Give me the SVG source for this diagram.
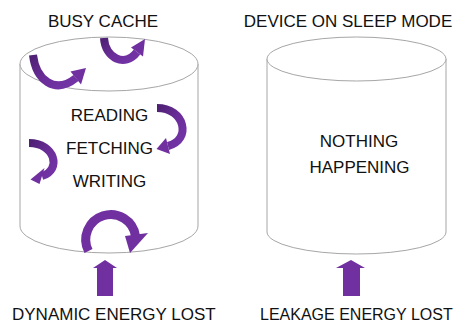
<svg xmlns="http://www.w3.org/2000/svg" width="458" height="325" viewBox="0 0 458 325">
<defs>
<style>
.cyl{fill:#fff;stroke:#a6a6a6;stroke-width:1}
.t{font-family:"Liberation Sans",Arial,sans-serif;font-size:17px;fill:#111}
.band{fill:none;stroke:url(#pg);stroke-width:8}
.head{fill:#7030a0}
.up{fill:#7030a0}
</style>
<linearGradient id="pg" x1="0" y1="0" x2="1" y2="1">
<stop offset="0" stop-color="#4e2073"/>
<stop offset="0.5" stop-color="#6a2d98"/>
<stop offset="1" stop-color="#7434a8"/>
</linearGradient>
</defs>
<rect width="458" height="325" fill="#fff"/>
<g id="busy-cache">
<path class="cyl" d="M20,64 L20,226 A89,27 0 0 0 198,226 L198,64"/>
<ellipse class="cyl" cx="109" cy="64" rx="89" ry="27"/>
<text class="t" x="103" y="27" text-anchor="middle">BUSY CACHE</text>
<text class="t" x="109.5" y="121" text-anchor="middle">READING</text>
<text class="t" x="109.5" y="154" text-anchor="middle">FETCHING</text>
<text class="t" x="109.5" y="187" text-anchor="middle">WRITING</text>
<g id="spin-arrows">
<path class="band" d="M33,55 C36,80 55,95 76,78"/>
<polygon class="head" points="86,68 81,84.5 70.5,71.5"/>
<path class="band" d="M104,38 C105,58 125,68 137,52"/>
<polygon class="head" points="145,39 143,56.5 131,47.5"/>
<path class="band" d="M157,108 C185,108 192,140 168,146"/>
<polygon class="head" points="156.5,149 170,154 166,138"/>
<path class="band" d="M29,143 C55,143 62,170 42,176"/>
<polygon class="head" points="30.5,179.5 44.5,168 39.5,184"/>
<path class="band" d="M88.5,251 A25,25 0 1 1 135.5,236" style="stroke:#7030a0;stroke-width:9"/>
<polygon class="head" points="125,236 148,233 130,253"/>
</g>
</g>
<g id="sleep-device">
<path class="cyl" d="M267,59 L267,232 A89.5,22 0 0 0 446,232 L446,59"/>
<ellipse class="cyl" cx="356.5" cy="59" rx="89.5" ry="22"/>
<text class="t" x="348" y="27" text-anchor="middle">DEVICE ON SLEEP MODE</text>
<text class="t" x="359" y="147" text-anchor="middle">NOTHING</text>
<text class="t" x="359.5" y="173" text-anchor="middle">HAPPENING</text>
</g>
<g id="connectors">
<polygon class="up" points="105,260 117,268 113,268 113,296 97,296 97,268 93,268"/>
<polygon class="up" points="351,260 365,268 360,268 360,296 343,296 343,268 336,268"/>
</g>
<g id="labels">
<text class="t" x="12" y="320">DYNAMIC ENERGY LOST</text>
<text class="t" x="260" y="320" style="font-size:16px">LEAKAGE ENERGY LOST</text>
</g>
</svg>
